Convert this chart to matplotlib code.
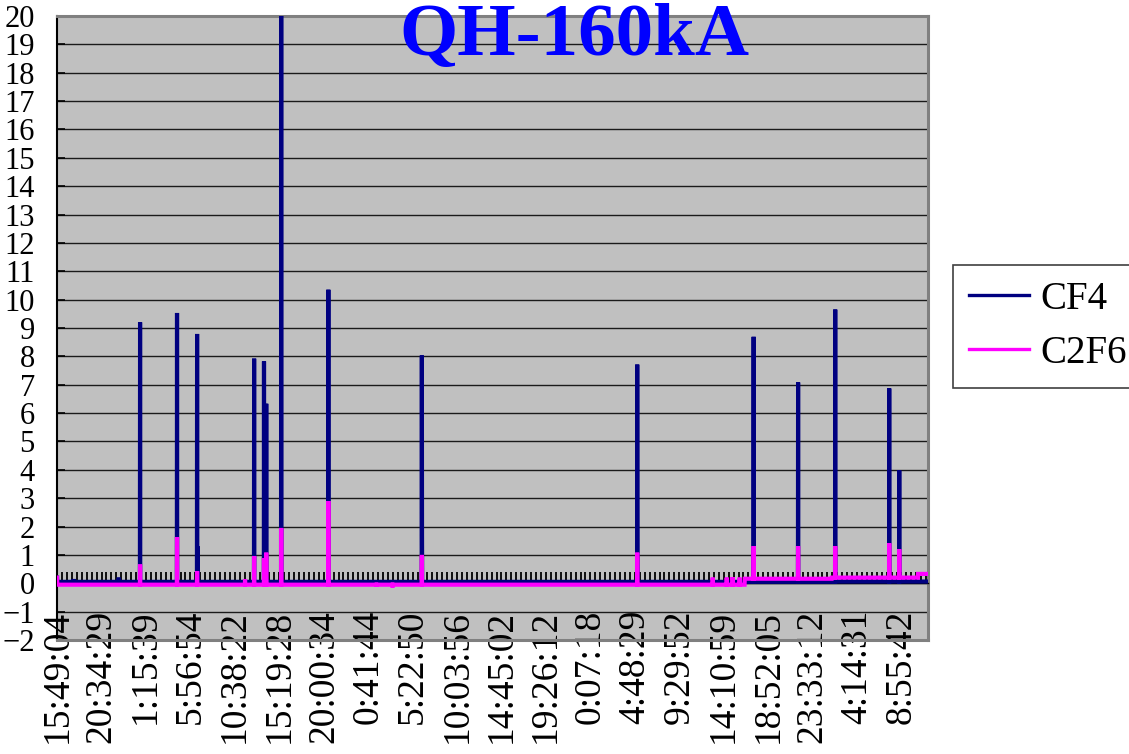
import numpy as np
import matplotlib
matplotlib.use('Agg')
import matplotlib.pyplot as plt
from matplotlib.ticker import MultipleLocator
from matplotlib.lines import Line2D

plt.rcParams['font.family'] = ['Liberation Serif', 'DejaVu Serif']

# ---------------- data ----------------
title = 'QH-160kA'
series_names = ['CF4', 'C2F6']
x_labels = ['15:49:04', '20:34:29', '1:15:39', '5:56:54', '10:38:22', '15:19:28',
            '20:00:34', '0:41:44', '5:22:50', '10:03:56', '14:45:02', '19:26:12',
            '0:07:18', '4:48:29', '9:29:52', '14:10:59', '18:52:05', '23:33:12',
            '4:14:31', '8:55:42']
samples_per_label = 279
samples_per_tick = 31
n_samples = 5468
y_ticks = list(range(-2, 21))

# CF4: baseline levels (start sample, level) and peaks (sample, value)
cf4_base_start = [0, 4864]
cf4_base_level = [0.05, 0.06]
cf4_peak_idx = [0, 104, 387, 521, 753, 879, 881, 884, 1237, 1299, 1302, 1306, 1310,
                1313, 1407, 1703, 2290, 2291, 3642, 3643, 4373, 4652, 4885, 5224, 5287]
cf4_peak_val = [0.2, 0.15, 0.2, 9.2, 9.53, 8.79, 1.3, 0.3, 7.92, 7.82, 6.1, 6.3, 6.2,
                6.33, 21.5, 10.35, 8.03, 1.7, 7.71, 2.8, 8.69, 7.08, 9.65, 6.87, 3.98]

# C2F6: baseline levels and peaks
c2f6_base_start = [0, 4317, 4864, 5405]
c2f6_base_level = [-0.05, 0.16, 0.2, 0.33]
c2f6_peak_idx = [0, 521, 753, 879, 1180, 1237, 1299, 1306, 1313, 1407, 1703, 2005,
                 2106, 2290, 3642, 4116, 4204, 4241, 4285, 4373, 4652, 4885, 5224, 5287]
c2f6_peak_val = [0.2, 0.66, 1.63, 0.43, 0.15, 0.96, 0.89, 0.85, 1.08, 1.95, 2.9, -0.12,
                 -0.15, 1.0, 1.08, 0.2, 0.2, 0.22, 0.2, 1.31, 1.31, 1.31, 1.41, 1.2]


def build_series(base_start, base_level, peak_idx, peak_val):
    def base_at(i):
        lvl = base_level[0]
        for s, l in zip(base_start, base_level):
            if i >= s:
                lvl = l
        return lvl
    pts = dict(zip(peak_idx, peak_val))
    for k, s in enumerate(base_start):
        if k > 0:
            pts.setdefault(s - 1, base_level[k - 1])
        pts.setdefault(s, base_level[k])
    pts.setdefault(n_samples - 1, base_at(n_samples - 1))
    for i in peak_idx:
        for j in (i - 1, i + 1):
            if 0 <= j < n_samples:
                pts.setdefault(j, base_at(j))
    xs = sorted(pts)
    return np.array(xs), np.array([pts[x] for x in xs])


cf4_x, cf4_y = build_series(cf4_base_start, cf4_base_level, cf4_peak_idx, cf4_peak_val)
c2_x, c2_y = build_series(c2f6_base_start, c2f6_base_level, c2f6_peak_idx, c2f6_peak_val)

# ---------------- figure ----------------
W, H = 1129, 754
fig = plt.figure(figsize=(W / 100, H / 100), dpi=100)
ax = fig.add_axes([57 / W, 1 - 640 / H, (928 - 57) / W, (640 - 16) / H])
ax.set_facecolor('#C0C0C0')

navy = '#000080'
pink = '#FF00FF'
l1, = ax.plot(cf4_x, cf4_y, color=navy, lw=3.0, solid_joinstyle='miter', zorder=3)
l2, = ax.plot(c2_x, c2_y, color=pink, lw=3.0, solid_joinstyle='miter', zorder=4)

ax.set_xlim(-0.5, n_samples - 0.5)
ax.set_ylim(-2, 20)

# y axis
ax.set_yticks(y_ticks)
ax.set_yticklabels([f'{v}'.replace('-', '\u2212') for v in y_ticks], fontsize=22)
ax.tick_params(axis='y', direction='in', length=6, width=1.2, colors='black', pad=16)
ax.yaxis.grid(True, color='#1a1a1a', lw=1.0)

# x (category) axis crossing at 0
ax.spines['bottom'].set_position(('data', 0))
ax.spines['bottom'].set_color('black')
ax.spines['bottom'].set_linewidth(1.0)
ax.set_xticks(np.arange(0, n_samples, samples_per_label))
ax.set_xticklabels(x_labels, rotation=90, fontsize=27)
ax.xaxis.set_minor_locator(MultipleLocator(samples_per_tick))
ax.tick_params(axis='x', which='both', direction='in', length=8, width=1.3,
               colors='black', pad=19)

ax.spines['left'].set_color('black')
ax.spines['left'].set_linewidth(1.5)
for s in ('top', 'right'):
    ax.spines[s].set_color('#808080')
    ax.spines[s].set_linewidth(2.2)
ax.axhline(-2, color='#808080', lw=2.2, clip_on=False, zorder=5)

# title
fig.text(574 / W, 1 - 55 / H, title, ha='center', va='baseline', fontsize=54,
         fontweight='bold', color='#0000FF')

# legend
handles = [Line2D([], [], color=navy, lw=2.4), Line2D([], [], color=pink, lw=2.4)]
leg = fig.legend(handles, series_names, loc='upper left',
                 bbox_to_anchor=(953 / W, 1 - 265 / H), frameon=True, fancybox=False,
                 edgecolor='#404040', facecolor='white', framealpha=1, fontsize=28,
                 handlelength=1.55, handletextpad=0.3, borderpad=0.4,
                 labelspacing=0.45, borderaxespad=0)
leg.get_frame().set_linewidth(1.2)

fig.savefig('out.png', dpi=100)
